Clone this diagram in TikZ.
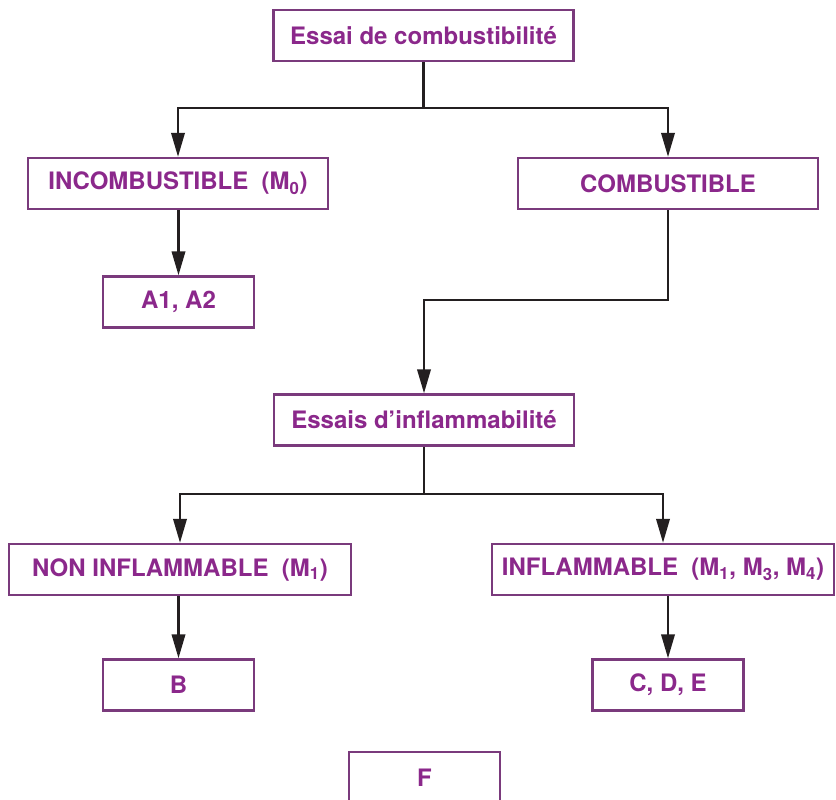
\documentclass[tikz,border=0pt]{standalone}
\usepackage{fontspec}
\setmainfont{TeX Gyre Heros}
\definecolor{BoxPurple}{RGB}{122,58,124}
\definecolor{TextPurple}{RGB}{139,40,139}
\definecolor{LineDark}{RGB}{35,31,32}
\usetikzlibrary{arrows.meta,positioning}

\begin{document}
\begin{tikzpicture}[x=0.75pt, y=-0.75pt,
        box/.style={rectangle, draw=BoxPurple, line width=1.7pt, fill=white,
                    minimum width=225pt, minimum height=38.25pt, inner sep=0pt,
                    font=\fontsize{18}{21}\selectfont\bfseries, text=TextPurple},
        smallbox/.style={box, minimum width=113.25pt},
        widebox/.style={box, minimum width=256.5pt},
        line/.style={line width=1.9pt, LineDark},
        arr/.style={line, -{Triangle[length=18pt, width=10pt]}}
      ]
        \useasboundingbox (0,0) rectangle (836,800);
        % first test
        \node[box] (essai) at (423.5,35.5) {Essai de combustibilité};
        \node[box] (incomb) at (178,183.5) {INCOMBUSTIBLE\ \ (M\textsubscript{0})};
        \node[box] (comb) at (668,183.5) {COMBUSTIBLE};
        \node[smallbox] (aclass) at (178.5,302) {A1, A2};
        \coordinate (split1) at (423.5,108);
        \draw[line] (essai) -- (split1);
        \draw[arr] (split1) -| (incomb);
        \draw[arr] (split1) -| (comb);
        \draw[arr] (incomb.south -| aclass) -- (aclass);
        % second test
        \node[box] (inflam) at (424,420) {Essais d’inflammabilité};
        \coordinate (bend) at (424,300);
        \draw[arr] (comb) |- (bend) -- (inflam);
        \node[widebox] (noninf) at (180,569.5) {NON INFLAMMABLE\ \ (M\textsubscript{1})};
        \node[widebox] (inf) at (663,569.5) {INFLAMMABLE\ \ (M\textsubscript{1}, M\textsubscript{3}, M\textsubscript{4})};
        \coordinate (split2) at (424,494);
        \draw[line] (inflam) -- (split2);
        \draw[arr] (split2) -| (noninf);
        \draw[arr] (split2) -| (inf);
        \node[smallbox] (bclass) at (178.5,685) {B};
        \node[smallbox] (cclass) at (668,685) {C, D, E};
        \draw[arr] (noninf.south -| bclass) -- (bclass);
        \draw[arr] (inf.south -| cclass) -- (cclass);
        \node[smallbox] (fclass) at (424.5,777.5) {F};
      \end{tikzpicture}
\end{document}
